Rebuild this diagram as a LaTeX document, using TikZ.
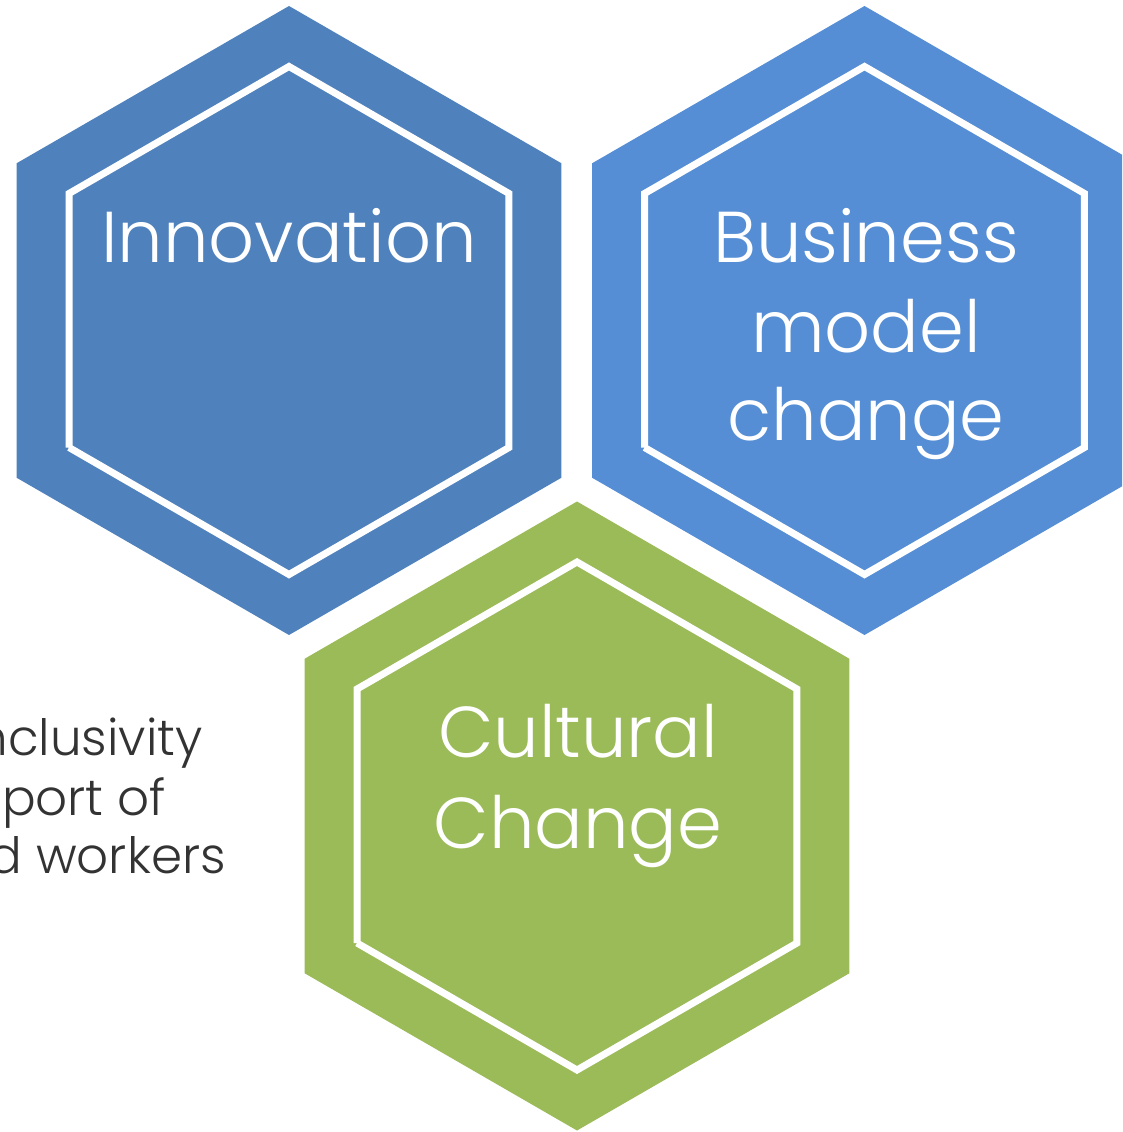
\documentclass[tikz,border=0pt]{standalone}
\usepackage{fontspec}
\setmainfont{Poppins}[UprightFont={* Light}]
\definecolor{hexA}{HTML}{4F81BD}
\definecolor{hexB}{HTML}{558ED5}
\definecolor{hexC}{HTML}{9BBB59}
\definecolor{sidetext}{HTML}{333333}
\tikzset{
  hexlabel/.style={text=white, font=\fontsize{72}{89}\selectfont, inner sep=0pt, anchor=base},
  sidelabel/.style={text=sidetext, font=\fontsize{50}{59}\selectfont, inner sep=0pt, anchor=base east},
  innerline/.style={draw=white, line width=7pt, line cap=butt, line join=miter},
}
\newcommand{\outerhex}[2]{% center, colour
  \fill[#2] (#1) +(90:314.5) -- +(150:314.5) -- +(210:314.5) -- +(270:314.5) -- +(330:314.5) -- +(30:314.5) -- cycle;
}
\newcommand{\innerhex}[1]{%
  \draw[innerline] (#1) +(150:254) -- +(210:254) -- +(270:254) -- +(330:254) -- +(30:254) -- +(90:254) -- +(150:254);
}
\begin{document}
\begin{tikzpicture}[x=1pt,y=-1pt]
\useasboundingbox (0,0) rectangle (1122,1132);
\clip (0,0) rectangle (1122,1132);
\coordinate (cA) at (289,320.5);
\coordinate (cB) at (864.5,320.5);
\coordinate (cC) at (577,816);
% side text
\node[sidelabel] (s1) at (203,755) {nclusivity};
\node[sidelabel] (s2) at (166,815) {port of};
\node[sidelabel] (s3) at (226,873) {d workers};
% hexagons
\outerhex{cA}{hexA}
\innerhex{cA}
\outerhex{cB}{hexB}
\innerhex{cB}
\outerhex{cC}{hexC}
\innerhex{cC}
% labels
\node[hexlabel] (innov) at (289,262) {Innovation};
\node[hexlabel] (bus1) at (866,262) {Business};
\node[hexlabel] (bus2) at (866,352) {model};
\node[hexlabel] (bus3) at (866,440) {change};
\node[hexlabel] (cul1) at (578,757) {Cultural};
\node[hexlabel] (cul2) at (578,848) {Change};
\end{tikzpicture}
\end{document}
